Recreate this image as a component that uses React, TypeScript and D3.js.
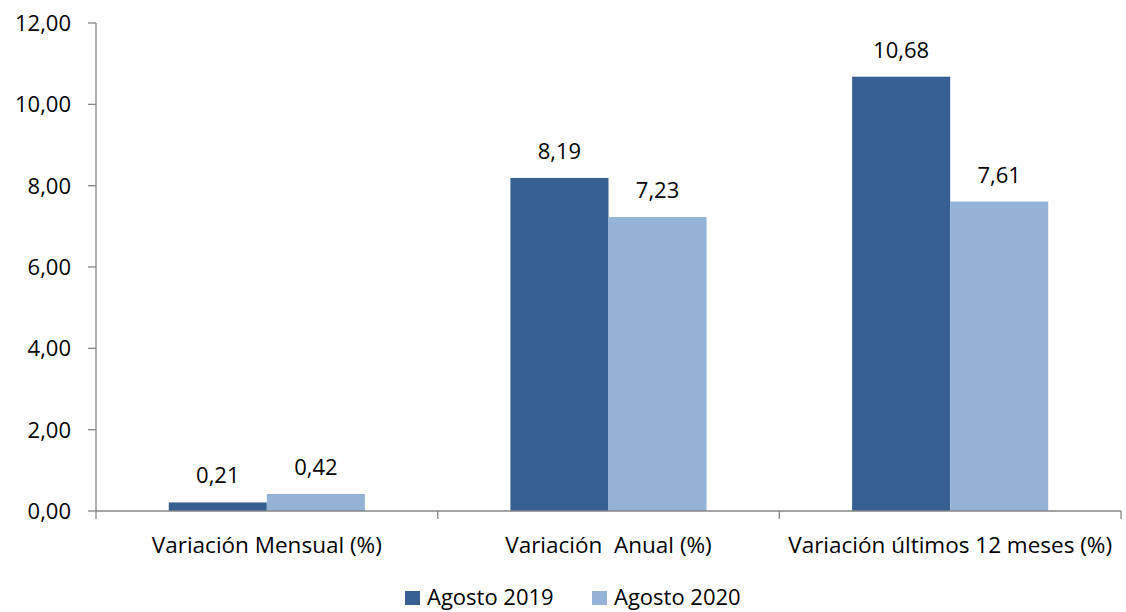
import * as d3 from "d3";

const categories = ["Variación Mensual (%)", "Variación  Anual (%)", "Variación últimos 12 meses (%)"];
const seriesNames = ["Agosto 2019", "Agosto 2020"];
const values2019 = [0.21, 8.19, 10.68];
const values2020 = [0.42, 7.23, 7.61];
const yTicks = [0, 2, 4, 6, 8, 10, 12];
const colors = ["#376092", "#95B3D7"];

const W = 1126, H = 612;
const left = 96, right = 1121, top = 23, bottom = 511;
const FONT = "'Open Sans', sans-serif";

export default function App() {
  const y = d3.scaleLinear().domain([0, 12]).range([bottom, top]);
  const x0 = d3.scaleBand<string>().domain(categories).range([left, right]).paddingInner(0.426).paddingOuter(0.213);
  const x1 = d3.scaleBand<string>().domain(seriesNames).range([0, x0.bandwidth()]);
  const fmt = (v: number) => v.toFixed(2).replace(".", ",");
  const series = [values2019, values2020];
  const step = (right - left) / categories.length;
  const axisColor = "#868686";

  return (
    <svg width={W} height={H} style={{ position: "absolute", left: 0, top: 0, background: "#fff" }} fontFamily={FONT}>
      {/* y axis */}
      <line x1={left} x2={left} y1={top} y2={bottom} stroke={axisColor} strokeWidth={1.3} />
      {yTicks.map((t) => (
        <g key={t}>
          <line x1={left - 8} x2={left} y1={y(t)} y2={y(t)} stroke={axisColor} strokeWidth={1.3} />
          <text x={left - 25} y={y(t) + 8} textAnchor="end" fontSize={22} fill="#000">{fmt(t)}</text>
        </g>
      ))}
      {/* bars */}
      {categories.map((c, ci) => (
        <g key={c} transform={`translate(${x0(c)},0)`}>
          {seriesNames.map((s, si) => {
            const v = series[si][ci];
            return (
              <g key={s}>
                <rect x={x1(s)} y={y(v)} width={x1.bandwidth()} height={bottom - y(v)} fill={colors[si]} />
                <text x={(x1(s) ?? 0) + x1.bandwidth() / 2} y={y(v) - 19} textAnchor="middle" fontSize={22} fill="#000">{fmt(v)}</text>
              </g>
            );
          })}
        </g>
      ))}
      {/* x axis */}
      <line x1={left} x2={right} y1={bottom} y2={bottom} stroke={axisColor} strokeWidth={1.3} />
      {d3.range(categories.length + 1).map((i) => (
        <line key={i} x1={left + i * step} x2={left + i * step} y1={bottom} y2={bottom + 8} stroke={axisColor} strokeWidth={1.3} />
      ))}
      {categories.map((c) => (
        <text key={c} x={(x0(c) ?? 0) + x0.bandwidth() / 2} y={553} textAnchor="middle" fontSize={22.5} fill="#000" style={{ whiteSpace: "pre" }}>{c}</text>
      ))}
      {/* legend */}
      {seriesNames.map((s, i) => {
        const lx = i === 0 ? 405 : 592;
        return (
          <g key={s}>
            <rect x={lx} y={591} width={15} height={14} fill={colors[i]} />
            <text x={lx + 22} y={605} fontSize={22} fill="#000">{s}</text>
          </g>
        );
      })}
    </svg>
  );
}
